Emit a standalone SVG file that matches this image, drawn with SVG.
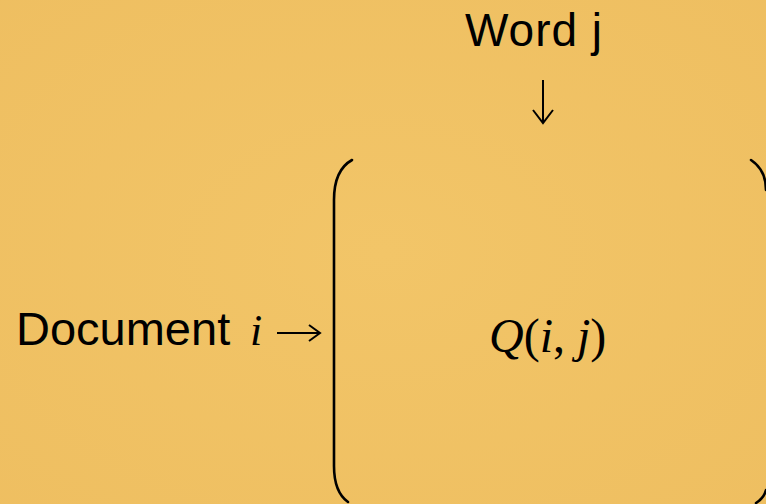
<svg xmlns="http://www.w3.org/2000/svg" width="766" height="504" viewBox="0 0 766 504">
<style>
.sans{font-family:"Liberation Sans",Arial,sans-serif;fill:#000}
.math{font-family:"Liberation Serif","Times New Roman",serif;fill:#000}
.br{fill:none;stroke:#000;stroke-width:2.6;stroke-linecap:round}
</style>
<defs>
<radialGradient id="bg" cx="0.5" cy="0.5" r="0.8">
<stop offset="0" stop-color="#F2C568"/>
<stop offset="1" stop-color="#EEBE60"/>
</radialGradient>
</defs>
<rect width="766" height="504" fill="url(#bg)"/>
<g id="word">
<text class="sans" x="465" y="46" font-size="46" letter-spacing="1">Word j</text>
</g>
<g id="document">
<text class="sans" x="16" y="345" font-size="47">Document</text>
<text class="math" x="250" y="345" font-size="44" font-style="italic">i</text>
</g>
<g id="matrix">
<path class="br" d="M352,160 Q334,170 334,200 L334,466 Q334,492 348,502"/>
<path class="br" d="M751,160 Q766,170 766,190"/>
<path class="br" d="M766,490 Q764,498 756,503"/>
<text class="math" x="489" y="352" font-size="48"><tspan font-style="italic">Q</tspan>(<tspan font-style="italic">i</tspan>, <tspan font-style="italic">j</tspan>)</text>
</g>
<g id="connectors">
<path d="M543,80 L543,122 M533,110 L543,123 L553,110" fill="none" stroke="#000" stroke-width="2"/>
<path d="M277,333 L319,333 M309,325 L320,333 L309,341" fill="none" stroke="#000" stroke-width="2"/>
</g>
</svg>
